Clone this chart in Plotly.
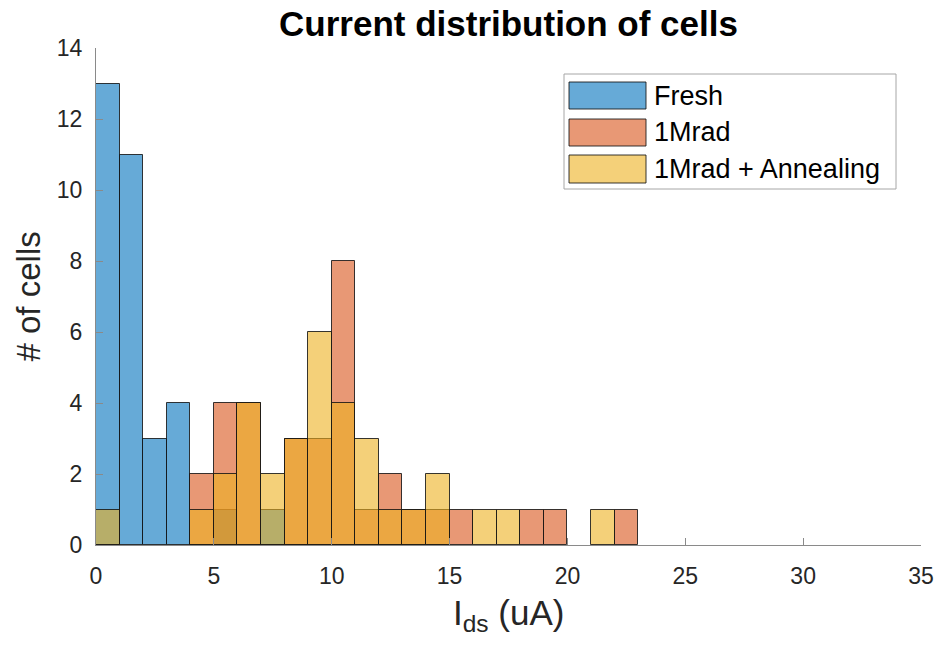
import plotly.graph_objects as go

# ---- data ----
bin_edges = list(range(0, 24))  # integer bins, width 1 uA
fresh_counts = [13, 11, 3, 4, 0, 1, 0, 1, 0, 0, 0, 0, 0, 0, 0, 0, 0, 0, 0, 0, 0, 0, 0]
mrad_counts = [0, 0, 0, 0, 2, 4, 4, 0, 3, 3, 8, 1, 2, 1, 1, 1, 0, 0, 1, 1, 0, 0, 1]
anneal_counts = [1, 0, 0, 0, 1, 2, 4, 2, 3, 6, 4, 3, 1, 1, 2, 0, 1, 1, 0, 0, 0, 1, 0]
series_names = ["Fresh", "1Mrad", "1Mrad + Annealing"]
x_ticks = [0, 5, 10, 15, 20, 25, 30, 35]
y_ticks = [0, 2, 4, 6, 8, 10, 12, 14]

colors = ["rgba(0,114,189,0.6)", "rgba(217,83,25,0.6)", "rgba(237,177,32,0.6)"]
edge = "rgba(20,20,20,0.85)"
FONT = "Liberation Sans, Arial, Helvetica, sans-serif"

W, H = 937, 647
L, R, T, B = 96, 16, 48, 102

centers = [(bin_edges[i] + bin_edges[i + 1]) / 2 for i in range(len(bin_edges) - 1)]
widths = [bin_edges[i + 1] - bin_edges[i] for i in range(len(bin_edges) - 1)]

fig = go.Figure()
for name, counts, col in zip(series_names, [fresh_counts, mrad_counts, anneal_counts], colors):
    fig.add_trace(go.Bar(
        x=centers, y=[c if c > 0 else None for c in counts], width=widths,
        name=name, marker=dict(color=col, line=dict(color=edge, width=1)),
        showlegend=False,
    ))

# ---- custom legend (MATLAB style) ----
pw = W - L - R
ph = H - T - B
def px(xp):
    return (xp - L) / pw
def py(yp):
    return (H - B - yp) / ph

shapes = [dict(type="rect", xref="paper", yref="paper",
               x0=px(564), x1=px(896), y0=py(189), y1=py(74),
               line=dict(color="#a6a6a6", width=1), fillcolor="white", layer="above")]
annotations = []
rows = [(82, 109), (119, 146), (155, 183)]
for (y0, y1), name, col in zip(rows, series_names, colors):
    shapes.append(dict(type="rect", xref="paper", yref="paper",
                       x0=px(569), x1=px(646), y0=py(y1), y1=py(y0),
                       line=dict(color=edge, width=1), fillcolor=col, layer="above"))
    annotations.append(dict(xref="paper", yref="paper", x=px(652), y=py((y0 + y1) / 2),
                            text=name, showarrow=False, xanchor="left", yanchor="middle",
                            font=dict(family=FONT, size=27, color="#000000")))

# axis titles
annotations.append(dict(xref="paper", yref="paper", x=0.5, y=py(591), text="I<sub>ds</sub> (uA)",
                        showarrow=False, xanchor="center", yanchor="top",
                        font=dict(family=FONT, size=35, color="#262626")))
annotations.append(dict(xref="paper", yref="paper", x=px(28), y=0.5, text="# of cells",
                        showarrow=False, xanchor="center", yanchor="middle", textangle=-90,
                        font=dict(family=FONT, size=33, color="#262626")))

fig.update_layout(
    width=W, height=H,
    margin=dict(l=L, r=R, t=T, b=B, autoexpand=False),
    barmode="overlay", bargap=0,
    plot_bgcolor="white", paper_bgcolor="white",
    title=dict(text="<b>Current distribution of cells</b>", x=0.5, xref="paper",
               y=1 - 24 / H, yanchor="middle", xanchor="center",
               font=dict(family=FONT, size=35, color="#000000")),
    shapes=shapes, annotations=annotations,
    font=dict(family=FONT, color="#262626"),
)
fig.update_xaxes(range=[0, 35], tickvals=x_ticks, ticks="inside", ticklen=7,
                 tickcolor="#8a8a8a", showline=True, linecolor="#8a8a8a", linewidth=1,
                 showgrid=False, zeroline=False, ticklabelstandoff=10, automargin=False,
                 tickfont=dict(family=FONT, size=23, color="#262626"))
fig.update_yaxes(range=[0, 14], tickvals=y_ticks, ticks="inside", ticklen=7,
                 tickcolor="#8a8a8a", showline=True, linecolor="#8a8a8a", linewidth=1,
                 showgrid=False, zeroline=False, ticklabelstandoff=8, automargin=False,
                 tickfont=dict(family=FONT, size=23, color="#262626"))

fig.write_html("out.html")
